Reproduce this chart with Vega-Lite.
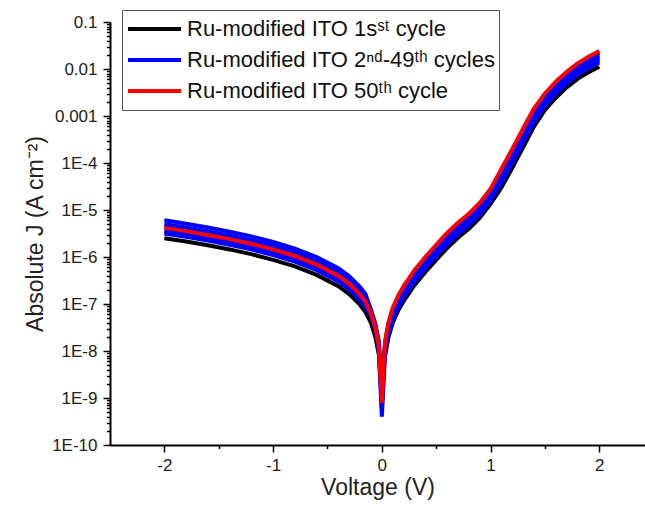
{
  "$schema": "https://vega.github.io/schema/vega-lite/v6.json",
  "width": 535,
  "height": 423,
  "autosize": {"type": "none"},
  "padding": {"left": 110, "top": 22, "right": 0, "bottom": 65},
  "background": "white",
  "config": {
    "view": {"stroke": null},
    "font": "Liberation Sans"
  },
  "data": {
    "values": [
      {"V": -2.0, "c1": 2.51e-6, "c2a": 6.03e-6, "c2b": 5.01e-6, "c2c": 4.37e-6, "c2d": 3.63e-6, "c2e": 3.16e-6, "c50": 4.17e-6},
      {"V": -1.8, "c1": 2.14e-6, "c2a": 5.13e-6, "c2b": 4.27e-6, "c2c": 3.72e-6, "c2d": 3.09e-6, "c2e": 2.69e-6, "c50": 3.55e-6},
      {"V": -1.6, "c1": 1.78e-6, "c2a": 4.27e-6, "c2b": 3.55e-6, "c2c": 3.09e-6, "c2d": 2.57e-6, "c2e": 2.24e-6, "c50": 2.95e-6},
      {"V": -1.4, "c1": 1.45e-6, "c2a": 3.47e-6, "c2b": 2.88e-6, "c2c": 2.51e-6, "c2d": 2.09e-6, "c2e": 1.82e-6, "c50": 2.40e-6},
      {"V": -1.2, "c1": 1.15e-6, "c2a": 2.75e-6, "c2b": 2.29e-6, "c2c": 2.00e-6, "c2d": 1.66e-6, "c2e": 1.45e-6, "c50": 1.91e-6},
      {"V": -1.0, "c1": 8.71e-7, "c2a": 2.09e-6, "c2b": 1.74e-6, "c2c": 1.51e-6, "c2d": 1.26e-6, "c2e": 1.10e-6, "c50": 1.45e-6},
      {"V": -0.8, "c1": 6.31e-7, "c2a": 1.51e-6, "c2b": 1.26e-6, "c2c": 1.10e-6, "c2d": 9.12e-7, "c2e": 7.94e-7, "c50": 1.05e-6},
      {"V": -0.6, "c1": 4.17e-7, "c2a": 1.00e-6, "c2b": 8.32e-7, "c2c": 7.24e-7, "c2d": 6.03e-7, "c2e": 5.25e-7, "c50": 6.92e-7},
      {"V": -0.4, "c1": 2.40e-7, "c2a": 5.75e-7, "c2b": 4.79e-7, "c2c": 4.17e-7, "c2d": 3.47e-7, "c2e": 3.02e-7, "c50": 3.98e-7},
      {"V": -0.3, "c1": 1.62e-7, "c2a": 3.89e-7, "c2b": 3.24e-7, "c2c": 2.82e-7, "c2d": 2.34e-7, "c2e": 2.04e-7, "c50": 2.69e-7},
      {"V": -0.2, "c1": 9.55e-8, "c2a": 2.29e-7, "c2b": 1.91e-7, "c2c": 1.66e-7, "c2d": 1.38e-7, "c2e": 1.20e-7, "c50": 1.58e-7},
      {"V": -0.15, "c1": 6.76e-8, "c2a": 1.62e-7, "c2b": 1.35e-7, "c2c": 1.17e-7, "c2d": 9.77e-8, "c2e": 8.51e-8, "c50": 1.12e-7},
      {"V": -0.1, "c1": 3.98e-8, "c2a": 7.59e-8, "c2b": 6.92e-8, "c2c": 6.46e-8, "c2d": 5.89e-8, "c2e": 5.50e-8, "c50": 6.31e-8},
      {"V": -0.06, "c1": 2.00e-8, "c2a": 3.80e-8, "c2b": 3.47e-8, "c2c": 3.24e-8, "c2d": 2.95e-8, "c2e": 2.75e-8, "c50": 3.16e-8},
      {"V": -0.03, "c1": 8.91e-9, "c2a": 1.70e-8, "c2b": 1.55e-8, "c2c": 1.45e-8, "c2d": 1.32e-8, "c2e": 1.23e-8, "c50": 1.41e-8},
      {"V": 0.0, "c1": 5.6e-9, "c2a": 2.5e-9, "c2b": 1.26e-9, "c2c": 1.0e-9, "c2d": 6.3e-10, "c2e": 4.0e-10, "c50": 7.9e-10},
      {"V": 0.03, "c1": 7.94e-9, "c2a": 1.51e-8, "c2b": 1.35e-8, "c2c": 1.20e-8, "c2d": 1.07e-8, "c2e": 9.55e-9, "c50": 1.66e-8},
      {"V": 0.06, "c1": 1.91e-8, "c2a": 3.63e-8, "c2b": 3.24e-8, "c2c": 2.88e-8, "c2d": 2.57e-8, "c2e": 2.29e-8, "c50": 3.98e-8},
      {"V": 0.1, "c1": 3.98e-8, "c2a": 7.59e-8, "c2b": 6.76e-8, "c2c": 6.03e-8, "c2d": 5.37e-8, "c2e": 4.79e-8, "c50": 8.32e-8},
      {"V": 0.15, "c1": 7.24e-8, "c2a": 1.38e-7, "c2b": 1.23e-7, "c2c": 1.10e-7, "c2d": 9.77e-8, "c2e": 8.71e-8, "c50": 1.51e-7},
      {"V": 0.2, "c1": 1.15e-7, "c2a": 2.19e-7, "c2b": 1.95e-7, "c2c": 1.74e-7, "c2d": 1.55e-7, "c2e": 1.38e-7, "c50": 2.40e-7},
      {"V": 0.3, "c1": 2.51e-7, "c2a": 4.79e-7, "c2b": 4.27e-7, "c2c": 3.80e-7, "c2d": 3.39e-7, "c2e": 3.02e-7, "c50": 5.25e-7},
      {"V": 0.4, "c1": 4.79e-7, "c2a": 9.12e-7, "c2b": 8.13e-7, "c2c": 7.24e-7, "c2d": 6.46e-7, "c2e": 5.75e-7, "c50": 1.00e-6},
      {"V": 0.5, "c1": 8.71e-7, "c2a": 1.66e-6, "c2b": 1.48e-6, "c2c": 1.32e-6, "c2d": 1.17e-6, "c2e": 1.05e-6, "c50": 1.82e-6},
      {"V": 0.6, "c1": 1.55e-6, "c2a": 2.95e-6, "c2b": 2.63e-6, "c2c": 2.34e-6, "c2d": 2.09e-6, "c2e": 1.86e-6, "c50": 3.24e-6},
      {"V": 0.7, "c1": 2.57e-6, "c2a": 4.90e-6, "c2b": 4.37e-6, "c2c": 3.89e-6, "c2d": 3.47e-6, "c2e": 3.09e-6, "c50": 5.37e-6},
      {"V": 0.8, "c1": 3.98e-6, "c2a": 7.59e-6, "c2b": 6.76e-6, "c2c": 6.03e-6, "c2d": 5.37e-6, "c2e": 4.79e-6, "c50": 8.32e-6},
      {"V": 0.9, "c1": 6.76e-6, "c2a": 1.29e-5, "c2b": 1.15e-5, "c2c": 1.02e-5, "c2d": 9.12e-6, "c2e": 8.13e-6, "c50": 1.41e-5},
      {"V": 1.0, "c1": 1.35e-5, "c2a": 2.57e-5, "c2b": 2.29e-5, "c2c": 2.04e-5, "c2d": 1.82e-5, "c2e": 1.62e-5, "c50": 2.82e-5},
      {"V": 1.1, "c1": 3.02e-5, "c2a": 6.76e-5, "c2b": 5.89e-5, "c2c": 5.13e-5, "c2d": 4.47e-5, "c2e": 3.89e-5, "c50": 7.59e-5},
      {"V": 1.2, "c1": 7.94e-5, "c2a": 1.78e-4, "c2b": 1.55e-4, "c2c": 1.35e-4, "c2d": 1.17e-4, "c2e": 1.02e-4, "c50": 2.00e-4},
      {"V": 1.3, "c1": 2.19e-4, "c2a": 4.90e-4, "c2b": 4.27e-4, "c2c": 3.72e-4, "c2d": 3.24e-4, "c2e": 2.82e-4, "c50": 5.50e-4},
      {"V": 1.4, "c1": 6.03e-4, "c2a": 1.29e-3, "c2b": 1.15e-3, "c2c": 1.00e-3, "c2d": 8.71e-4, "c2e": 7.59e-4, "c50": 1.45e-3},
      {"V": 1.5, "c1": 1.35e-3, "c2a": 2.75e-3, "c2b": 2.40e-3, "c2c": 2.14e-3, "c2d": 1.91e-3, "c2e": 1.66e-3, "c50": 3.02e-3},
      {"V": 1.6, "c1": 2.45e-3, "c2a": 4.90e-3, "c2b": 4.37e-3, "c2c": 3.89e-3, "c2d": 3.47e-3, "c2e": 3.02e-3, "c50": 5.37e-3},
      {"V": 1.7, "c1": 4.07e-3, "c2a": 7.94e-3, "c2b": 7.08e-3, "c2c": 6.31e-3, "c2d": 5.62e-3, "c2e": 5.01e-3, "c50": 8.71e-3},
      {"V": 1.8, "c1": 6.17e-3, "c2a": 1.20e-2, "c2b": 1.07e-2, "c2c": 9.55e-3, "c2d": 8.51e-3, "c2e": 7.59e-3, "c50": 1.32e-2},
      {"V": 1.9, "c1": 8.51e-3, "c2a": 1.66e-2, "c2b": 1.48e-2, "c2c": 1.32e-2, "c2d": 1.17e-2, "c2e": 1.05e-2, "c50": 1.82e-2},
      {"V": 2.0, "c1": 1.12e-2, "c2a": 2.19e-2, "c2b": 1.95e-2, "c2c": 1.74e-2, "c2d": 1.55e-2, "c2e": 1.38e-2, "c50": 2.40e-2}
    ]
  },
  "transform": [
    {"fold": ["c1", "c2a", "c2b", "c2c", "c2d", "c2e", "c50"], "as": ["run", "J"]}
  ],
  "mark": {"type": "line", "strokeWidth": 4, "clip": true},
  "encoding": {
    "x": {
      "field": "V",
      "type": "quantitative",
      "scale": {"domain": [-2.5, 2.42], "nice": false, "zero": false},
      "axis": {
        "title": "Voltage (V)",
        "values": [-2, -1.5, -1, -0.5, 0, 0.5, 1, 1.5, 2],
        "labelExpr": "datum.value % 1 == 0 ? '' + datum.value : ''",
        "grid": false,
        "domainColor": "#000000",
        "domainWidth": 2,
        "tickColor": "#000000",
        "tickWidth": 1.5,
        "tickSize": {"condition": {"test": "datum.value % 1 != 0", "value": 3.5}, "value": 7},
        "labelFontSize": 17,
        "labelColor": "#222222",
        "labelPadding": 5,
        "labelFont": "Liberation Sans",
        "titleFont": "Liberation Sans",
        "titleFontSize": 23,
        "titleFontWeight": "normal",
        "titleColor": "#222222",
        "titlePadding": 3
      }
    },
    "y": {
      "field": "J",
      "type": "quantitative",
      "scale": {"type": "log", "domain": [1e-10, 0.1], "nice": false},
      "axis": {
        "title": "Absolute J (A cm⁻²)",
        "values": [1e-10, 2e-10, 3e-10, 4e-10, 5e-10, 6e-10, 7e-10, 8e-10, 9e-10,
                   1e-9, 2e-9, 3e-9, 4e-9, 5e-9, 6e-9, 7e-9, 8e-9, 9e-9,
                   1e-8, 2e-8, 3e-8, 4e-8, 5e-8, 6e-8, 7e-8, 8e-8, 9e-8,
                   1e-7, 2e-7, 3e-7, 4e-7, 5e-7, 6e-7, 7e-7, 8e-7, 9e-7,
                   1e-6, 2e-6, 3e-6, 4e-6, 5e-6, 6e-6, 7e-6, 8e-6, 9e-6,
                   1e-5, 2e-5, 3e-5, 4e-5, 5e-5, 6e-5, 7e-5, 8e-5, 9e-5,
                   1e-4, 2e-4, 3e-4, 4e-4, 5e-4, 6e-4, 7e-4, 8e-4, 9e-4,
                   0.001, 0.002, 0.003, 0.004, 0.005, 0.006, 0.007, 0.008, 0.009,
                   0.01, 0.02, 0.03, 0.04, 0.05, 0.06, 0.07, 0.08, 0.09, 0.1],
        "labelExpr": "abs(log(datum.value)/LN10 - round(log(datum.value)/LN10)) > 0.01 ? '' : (datum.value > 0.0005 ? format(datum.value, '') : '1E' + round(log(datum.value)/LN10))",
        "grid": false,
        "domainColor": "#000000",
        "domainWidth": 2,
        "tickColor": "#000000",
        "tickWidth": 1.5,
        "tickSize": {"condition": {"test": "abs(log(datum.value)/LN10 - round(log(datum.value)/LN10)) > 0.01", "value": 3.5}, "value": 7},
        "labelFontSize": 17,
        "labelColor": "#222222",
        "labelPadding": 6,
        "labelFont": "Liberation Sans",
        "labelOverlap": false,
        "titleFont": "Liberation Sans",
        "titleFontSize": 23,
        "titleFontWeight": "normal",
        "titleColor": "#222222",
        "titlePadding": 4
      }
    },
    "color": {
      "field": "run",
      "type": "nominal",
      "scale": {
        "domain": ["c1", "c2a", "c2b", "c2c", "c2d", "c2e", "c50"],
        "range": ["#000000", "#0000ff", "#0000ff", "#0000ff", "#0000ff", "#0000ff", "#ff0000"]
      },
      "legend": {
        "title": null,
        "values": ["c1", "c2a", "c50"],
        "labelExpr": "datum.value == 'c1' ? 'Ru-modified ITO 1sˢᵗ cycle' : (datum.value == 'c2a' ? 'Ru-modified ITO 2ⁿᵈ-49ᵗʰ cycles' : 'Ru-modified ITO 50ᵗʰ cycle')",
        "orient": "none",
        "legendX": 12,
        "legendY": -12,
        "symbolType": "stroke",
        "symbolSize": 2800,
        "symbolStrokeWidth": 4,
        "clipHeight": 30,
        "rowPadding": 1,
        "padding": 4,
        "labelOffset": 4,
        "labelFontSize": 22,
        "labelFont": "Liberation Sans",
        "labelColor": "#111111",
        "labelLimit": 500,
        "strokeColor": "#555555",
        "fillColor": "#ffffff"
      }
    }
  }
}
